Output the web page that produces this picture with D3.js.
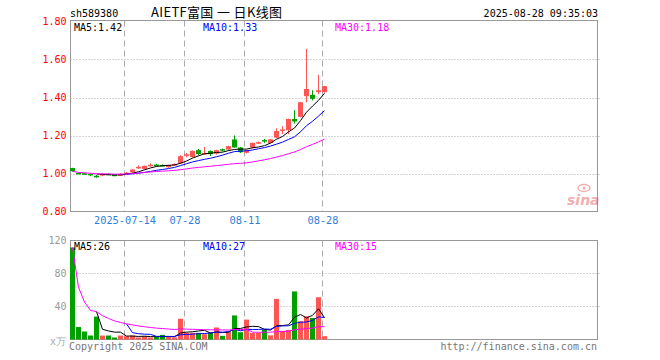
<!DOCTYPE html>
<html><head><meta charset="utf-8">
<script src="https://cdn.jsdelivr.net/npm/d3@7/dist/d3.min.js"></script>
<style>body{margin:0;background:#fff}svg{display:block}</style>
</head><body><svg id="c" width="660" height="360"></svg>
<script>
// ---------- data ----------
const dates = ["2025-07-01","2025-07-02","2025-07-03","2025-07-04","2025-07-07","2025-07-08","2025-07-09","2025-07-10","2025-07-11",
"2025-07-14","2025-07-15","2025-07-16","2025-07-17","2025-07-18","2025-07-21","2025-07-22","2025-07-23","2025-07-24","2025-07-25",
"2025-07-28","2025-07-29","2025-07-30","2025-07-31","2025-08-01","2025-08-04","2025-08-05","2025-08-06","2025-08-07","2025-08-08",
"2025-08-11","2025-08-12","2025-08-13","2025-08-14","2025-08-15","2025-08-18","2025-08-19","2025-08-20","2025-08-21","2025-08-22",
"2025-08-25","2025-08-26","2025-08-27","2025-08-28"];
const openP  = [1.029,1.003,1.001,0.998,0.988,0.993,0.998,0.994,0.992,0.999,1.006,1.032,1.024,1.043,1.047,1.045,1.033,1.046,1.053,1.098,1.087,1.123,1.105,1.119,1.105,1.128,1.126,1.179,1.137,1.109,1.137,1.162,1.176,1.160,1.189,1.228,1.228,1.287,1.298,1.407,1.414,1.428,1.428];
const highP  = [1.030,1.006,1.004,1.000,0.992,1.003,1.001,0.997,1.002,1.008,1.023,1.043,1.041,1.053,1.051,1.048,1.046,1.053,1.096,1.108,1.121,1.130,1.140,1.122,1.125,1.131,1.146,1.200,1.140,1.124,1.163,1.168,1.182,1.182,1.238,1.249,1.289,1.333,1.375,1.656,1.438,1.519,1.461];
const lowP   = [1.010,0.997,0.997,0.986,0.978,0.986,0.992,0.985,0.987,0.995,1.004,1.024,1.022,1.036,1.038,1.037,1.030,1.040,1.050,1.085,1.084,1.095,1.098,1.092,1.100,1.116,1.122,1.135,1.108,1.105,1.132,1.155,1.160,1.157,1.186,1.207,1.207,1.263,1.296,1.375,1.385,1.417,1.425];
const closeP = [1.012,1.000,0.999,0.995,0.985,0.997,0.995,0.990,0.996,1.004,1.021,1.035,1.040,1.046,1.043,1.041,1.045,1.050,1.091,1.101,1.119,1.102,1.108,1.102,1.123,1.126,1.144,1.137,1.112,1.123,1.161,1.165,1.172,1.180,1.224,1.232,1.287,1.274,1.375,1.445,1.393,1.438,1.460];
const volume = [111,15,9.6,4.8,27.6,4.8,4.8,2.4,4.8,4,4.8,2.4,4,2.4,3.2,5.6,3.2,2.5,25,8,8,8,6.4,8.5,14.5,4.4,9.6,29,8.8,24,8,8,12,5,49,10.4,11.6,58,22,28,26,51,4];
const priceTicks = [0.8,1.0,1.2,1.4,1.6,1.8];
const volTicks = [40,80,120];
const dateTicks = ["2025-07-14","2025-07-28","2025-08-11","2025-08-28"];
const dateTickLabels = ["2025-07-14","07-28","08-11","08-28"];
const maPeriods = [5,10,30];
const maColors = ["#000000","#0000ff","#ff00ff"];
const priceMALabels = ["MA5:1.42","MA10:1.33","MA30:1.18"];
const volMALabels = ["MA5:26","MA10:27","MA30:15"];
const codeText = "sh589380";
const titleText = "AIETF富国 一 日K线图";
const timeText = "2025-08-28 09:35:03";

// ---------- layout ----------
const svg = d3.select("#c");
const L = 70.5, R = 597.5;
const PT = 20.5, PB = 211.5, VT = 240.5, VB = 339.5;
const mono = "'DejaVu Sans Mono', 'Liberation Mono', monospace";
const UP = "#ff5555", DOWN = "#00a000";

const x = d3.scalePoint().domain(dates).range([72.5, 72.5 + 6 * (dates.length - 1)]);
const y = d3.scaleLinear().domain([0.8, 1.8]).range([211.5, 21.5]);
const yv = d3.scaleLinear().domain([0, 120]).range([339.5, 240]);

function ma(arr, n) {
  return arr.map((_, i) => {
    if (n < 30 && i < n - 1) return null;
    const s = arr.slice(Math.max(0, i - n + 1), i + 1);
    return d3.mean(s);
  });
}

// grid lines
function hgrid(scale, ticks) {
  svg.append("g").selectAll("line").data(ticks).join("line")
    .attr("x1", L).attr("x2", R + 2)
    .attr("y1", d => Math.round(scale(d)) + 0.5).attr("y2", d => Math.round(scale(d)) + 0.5)
    .attr("stroke", "#aaa").attr("stroke-dasharray", "1,2");
}
hgrid(y, [1.0, 1.2, 1.4, 1.6]);
hgrid(yv, [40, 80]);

// vertical dashed lines
[[PT, PB], [VT, VB]].forEach(([t, b]) => {
  svg.append("g").selectAll("line").data(dateTicks).join("line")
    .attr("x1", d => x(d) - 2).attr("x2", d => x(d) - 2)
    .attr("y1", t).attr("y2", b)
    .attr("stroke", "#aaa").attr("stroke-dasharray", "6,4");
});

// boxes
[[PT, PB], [VT, VB]].forEach(([t, b]) => {
  svg.append("rect").attr("x", L).attr("y", t).attr("width", R - L).attr("height", b - t)
    .attr("fill", "none").attr("stroke", "#999");
});

// candles
const idx = d3.range(dates.length);
const cg = svg.append("g");
cg.selectAll("line").data(idx).join("line")
  .attr("x1", i => x(dates[i])).attr("x2", i => x(dates[i]))
  .attr("y1", i => y(highP[i])).attr("y2", i => y(lowP[i]))
  .attr("stroke", i => closeP[i] >= openP[i] ? UP : DOWN);
cg.selectAll("rect").data(idx).join("rect")
  .attr("x", i => x(dates[i]) - 2.5).attr("width", 5)
  .attr("y", i => y(Math.max(openP[i], closeP[i])))
  .attr("height", i => Math.max(1.5, Math.abs(y(openP[i]) - y(closeP[i]))))
  .attr("fill", i => closeP[i] >= openP[i] ? UP : DOWN);

// volume bars
svg.append("g").selectAll("rect").data(idx).join("rect")
  .attr("x", i => x(dates[i]) - 2.5).attr("width", 5)
  .attr("y", i => yv(volume[i])).attr("height", i => yv(0) - yv(volume[i]))
  .attr("fill", i => closeP[i] >= openP[i] ? UP : DOWN);

// MA lines
maPeriods.forEach((n, k) => {
  const pm = ma(closeP, n), vm = ma(volume, n);
  const lp = d3.line().defined(d => d[1] != null).x(d => x(d[0])).y(d => y(d[1]));
  const lv = d3.line().defined(d => d[1] != null).x(d => x(d[0])).y(d => yv(d[1]));
  svg.append("path").attr("d", lp(dates.map((d, i) => [d, pm[i]])))
    .attr("fill", "none").attr("stroke", maColors[k]).attr("stroke-width", 1);
  svg.append("path").attr("d", lv(dates.map((d, i) => [d, vm[i]])))
    .attr("fill", "none").attr("stroke", maColors[k]).attr("stroke-width", 1);
});

// axes (labels)
const ax1 = svg.append("g").attr("transform", `translate(${L},0)`)
  .call(d3.axisLeft(y).tickValues(priceTicks).tickFormat(d3.format(".2f")).tickSize(0).tickPadding(4));
ax1.select(".domain").remove();
ax1.selectAll("text").attr("fill", "#ff0000").attr("font-family", mono).attr("font-size", 10);

const ax2 = svg.append("g").attr("transform", `translate(${L},0)`)
  .call(d3.axisLeft(yv).tickValues(volTicks).tickFormat(d3.format("d")).tickSize(0).tickPadding(4));
ax2.select(".domain").remove();
ax2.selectAll("text").attr("fill", "#999").attr("font-family", mono).attr("font-size", 10);

const ax3 = svg.append("g").attr("transform", `translate(-2,${PB})`)
  .call(d3.axisBottom(x).tickValues(dateTicks).tickFormat((d, i) => dateTickLabels[i]).tickSize(0).tickPadding(5));
ax3.select(".domain").remove();
ax3.selectAll("text").attr("fill", "#2f7fd8").attr("font-family", mono).attr("font-size", 10.3);

// MA labels
const maX = [74, 203, 335];
maPeriods.forEach((n, k) => {
  svg.append("text").attr("x", maX[k]).attr("y", 30.5).text(priceMALabels[k])
    .attr("fill", maColors[k]).attr("font-family", mono).attr("font-size", 10);
  svg.append("text").attr("x", maX[k]).attr("y", 250).text(volMALabels[k])
    .attr("fill", maColors[k]).attr("font-family", mono).attr("font-size", 10);
});

// header
svg.append("text").attr("x", 70).attr("y", 16.5).text(codeText)
  .attr("font-family", mono).attr("font-size", 10).attr("fill", "#000");
svg.append("text").attr("x", 151).attr("y", 17).text(titleText)
  .attr("textLength", 131).attr("lengthAdjust", "spacing")
  .attr("font-family", "'Noto Sans CJK SC', sans-serif").attr("font-size", 13).attr("fill", "#000");
svg.append("text").attr("x", 598).attr("y", 16.5).attr("text-anchor", "end").text(timeText)
  .attr("font-family", mono).attr("font-size", 10).attr("fill", "#000");

// footer
svg.append("text").attr("x", 66).attr("y", 345).attr("text-anchor", "end").text("x万")
  .attr("font-family", mono).attr("font-size", 10).attr("fill", "#aaa");
svg.append("text").attr("x", 69).attr("y", 350).text("Copyright 2025 SINA.COM")
  .attr("font-family", mono).attr("font-size", 10).attr("fill", "#777");
svg.append("text").attr("x", 597).attr("y", 350).attr("text-anchor", "end").text("http://finance.sina.com.cn")
  .attr("font-family", mono).attr("font-size", 10).attr("fill", "#777");

// sina watermark
const wm = svg.append("g").attr("opacity", 0.45);
wm.append("text").attr("x", 567).attr("y", 205).text("sina")
  .attr("font-family", "'DejaVu Sans', sans-serif").attr("font-style", "italic").attr("font-weight", "bold")
  .attr("font-size", 14).attr("fill", "#e05050");
wm.append("ellipse").attr("cx", 584).attr("cy", 188).attr("rx", 6).attr("ry", 3.5)
  .attr("fill", "none").attr("stroke", "#e05050").attr("stroke-width", 1.5);
wm.append("circle").attr("cx", 584).attr("cy", 188).attr("r", 1.5).attr("fill", "#e05050");
</script></body></html>
